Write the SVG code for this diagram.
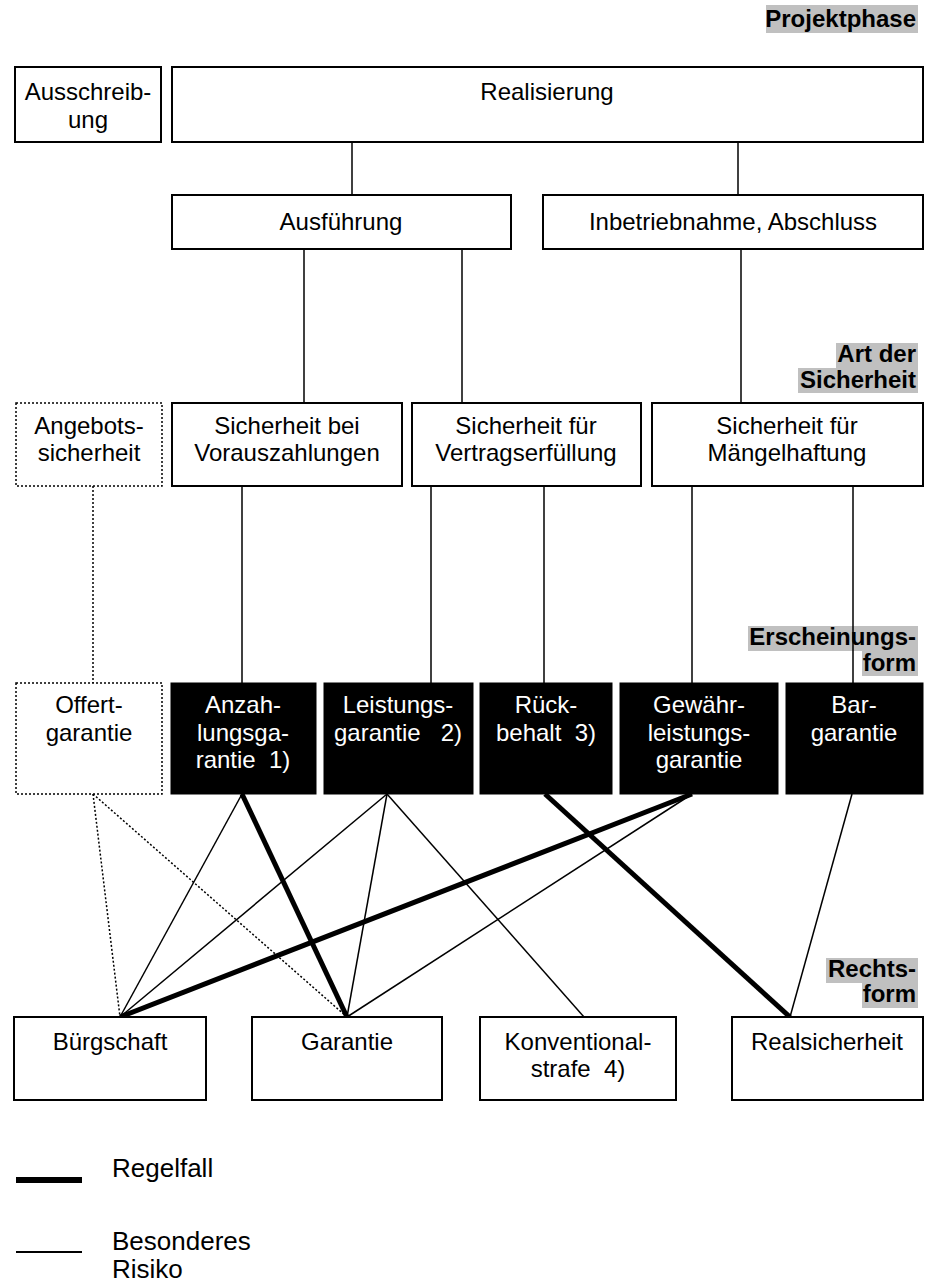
<svg xmlns="http://www.w3.org/2000/svg" width="928" height="1285" viewBox="0 0 928 1285">
<style>
  .box { fill: #ffffff; stroke: #000000; stroke-width: 2; }
  .dbox { fill: #ffffff; stroke: #000000; stroke-width: 1.5; stroke-dasharray: 2 2; }
  .bbox { fill: #000000; stroke: #000000; stroke-width: 1; }
  .t { font-family: "Liberation Sans", Arial, sans-serif; font-size: 24px; fill: #000000; text-anchor: middle; white-space: pre; }
  .w { fill: #ffffff; }
  .lbl { font-family: "Liberation Sans", Arial, sans-serif; font-size: 24px; font-weight: bold; fill: #000000; text-anchor: end; }
  .hl { fill: #c0c0c0; }
  .thin { stroke: #000000; stroke-width: 1.5; fill: none; }
  .thick { stroke: #000000; stroke-width: 5; fill: none; }
  .dot { stroke: #000000; stroke-width: 1.5; stroke-dasharray: 2 2; fill: none; }
  .leg { font-family: "Liberation Sans", Arial, sans-serif; font-size: 26px; fill: #000000; }
</style>

<g id="labels">
  <rect class="hl" x="766" y="5" width="152" height="28"/>
  <text class="lbl" x="916" y="27">Projektphase</text>
  <rect class="hl" x="836" y="343" width="82" height="25"/>
  <rect class="hl" x="798" y="368" width="120" height="25"/>
  <text class="lbl" x="916" y="362">Art der</text>
  <text class="lbl" x="916" y="388">Sicherheit</text>
  <rect class="hl" x="748" y="626" width="170" height="25"/>
  <rect class="hl" x="862" y="651" width="56" height="25"/>
  <text class="lbl" x="916" y="645">Erscheinungs-</text>
  <text class="lbl" x="916" y="671">form</text>
  <rect class="hl" x="826" y="958" width="92" height="25"/>
  <rect class="hl" x="862" y="983" width="56" height="25"/>
  <text class="lbl" x="916" y="977">Rechts-</text>
  <text class="lbl" x="916" y="1002">form</text>
</g>

<g id="connectors">
  <line class="thin" x1="352" y1="142" x2="352" y2="195"/>
  <line class="thin" x1="738" y1="142" x2="738" y2="195"/>
  <line class="thin" x1="304" y1="249" x2="304" y2="403"/>
  <line class="thin" x1="462" y1="249" x2="462" y2="403"/>
  <line class="thin" x1="741" y1="249" x2="741" y2="403"/>
  <line class="dot" x1="93" y1="486" x2="93" y2="683"/>
  <line class="thin" x1="242" y1="486" x2="242" y2="683"/>
  <line class="thin" x1="431" y1="486" x2="431" y2="683"/>
  <line class="thin" x1="544" y1="486" x2="544" y2="683"/>
  <line class="thin" x1="692" y1="486" x2="692" y2="683"/>
  <line class="thin" x1="853" y1="486" x2="853" y2="683"/>
  <line class="dot" x1="93" y1="794" x2="120" y2="1017"/>
  <line class="dot" x1="93" y1="794" x2="347" y2="1017"/>
  <line class="thin" x1="242" y1="794" x2="120" y2="1017"/>
  <line class="thick" x1="242" y1="794" x2="347" y2="1017"/>
  <line class="thin" x1="387" y1="794" x2="120" y2="1017"/>
  <line class="thin" x1="387" y1="794" x2="347" y2="1017"/>
  <line class="thin" x1="387" y1="794" x2="584" y2="1017"/>
  <line class="thick" x1="545" y1="794" x2="790" y2="1017"/>
  <line class="thick" x1="692" y1="794" x2="120" y2="1017"/>
  <line class="thin" x1="692" y1="794" x2="347" y2="1017"/>
  <line class="thin" x1="852" y1="794" x2="790" y2="1017"/>
</g>

<g id="n-ausschreibung">
  <rect class="box" x="15" y="67" width="146" height="75"/>
  <text class="t" x="88" y="100">Ausschreib-</text>
  <text class="t" x="88" y="128">ung</text>
</g>
<g id="n-realisierung">
  <rect class="box" x="172" y="67" width="751" height="75"/>
  <text class="t" x="547" y="100">Realisierung</text>
</g>
<g id="n-ausfuehrung">
  <rect class="box" x="172" y="195" width="339" height="54"/>
  <text class="t" x="341" y="230">Ausführung</text>
</g>
<g id="n-inbetriebnahme">
  <rect class="box" x="543" y="195" width="380" height="54"/>
  <text class="t" x="733" y="230">Inbetriebnahme, Abschluss</text>
</g>

<g id="n-angebotssicherheit">
  <rect class="dbox" x="16" y="403" width="146" height="83"/>
  <text class="t" x="89" y="434">Angebots-</text>
  <text class="t" x="89" y="461">sicherheit</text>
</g>
<g id="n-vorauszahlungen">
  <rect class="box" x="172" y="403" width="230" height="83"/>
  <text class="t" x="287" y="434">Sicherheit bei</text>
  <text class="t" x="287" y="461">Vorauszahlungen</text>
</g>
<g id="n-vertragserfuellung">
  <rect class="box" x="412" y="403" width="229" height="83"/>
  <text class="t" x="526" y="434">Sicherheit für</text>
  <text class="t" x="526" y="461">Vertragserfüllung</text>
</g>
<g id="n-maengelhaftung">
  <rect class="box" x="652" y="403" width="271" height="83"/>
  <text class="t" x="787" y="434">Sicherheit für</text>
  <text class="t" x="787" y="461">Mängelhaftung</text>
</g>

<g id="n-offertgarantie">
  <rect class="dbox" x="16" y="683" width="146" height="111"/>
  <text class="t" x="89" y="713">Offert-</text>
  <text class="t" x="89" y="741">garantie</text>
</g>
<g id="n-anzahlungsgarantie">
  <rect class="bbox" x="171" y="683" width="145" height="111"/>
  <text class="t w" x="243" y="713">Anzah-</text>
  <text class="t w" x="243" y="741">lungsga-</text>
  <text class="t w" x="243" y="768">rantie  1)</text>
</g>
<g id="n-leistungsgarantie">
  <rect class="bbox" x="324" y="683" width="149" height="111"/>
  <text class="t w" x="398" y="713">Leistungs-</text>
  <text class="t w" x="398" y="741">garantie   2)</text>
</g>
<g id="n-rueckbehalt">
  <rect class="bbox" x="480" y="683" width="132" height="111"/>
  <text class="t w" x="546" y="713">Rück-</text>
  <text class="t w" x="546" y="741">behalt  3)</text>
</g>
<g id="n-gewaehrleistungsgarantie">
  <rect class="bbox" x="620" y="683" width="158" height="111"/>
  <text class="t w" x="699" y="713">Gewähr-</text>
  <text class="t w" x="699" y="741">leistungs-</text>
  <text class="t w" x="699" y="768">garantie</text>
</g>
<g id="n-bargarantie">
  <rect class="bbox" x="786" y="683" width="137" height="111"/>
  <text class="t w" x="854" y="713">Bar-</text>
  <text class="t w" x="854" y="741">garantie</text>
</g>

<g id="n-buergschaft">
  <rect class="box" x="14" y="1017" width="192" height="83"/>
  <text class="t" x="110" y="1050">Bürgschaft</text>
</g>
<g id="n-garantie">
  <rect class="box" x="252" y="1017" width="190" height="83"/>
  <text class="t" x="347" y="1050">Garantie</text>
</g>
<g id="n-konventionalstrafe">
  <rect class="box" x="480" y="1017" width="196" height="83"/>
  <text class="t" x="578" y="1050">Konventional-</text>
  <text class="t" x="578" y="1077">strafe  4)</text>
</g>
<g id="n-realsicherheit">
  <rect class="box" x="732" y="1017" width="191" height="83"/>
  <text class="t" x="827" y="1050">Realsicherheit</text>
</g>

<g id="legend">
  <line x1="16" y1="1180" x2="82" y2="1180" stroke="#000000" stroke-width="6"/>
  <text class="leg" x="112" y="1177">Regelfall</text>
  <line x1="16" y1="1252" x2="82" y2="1252" stroke="#000000" stroke-width="2"/>
  <text class="leg" x="112" y="1250">Besonderes</text>
  <text class="leg" x="112" y="1278">Risiko</text>
</g>
</svg>
